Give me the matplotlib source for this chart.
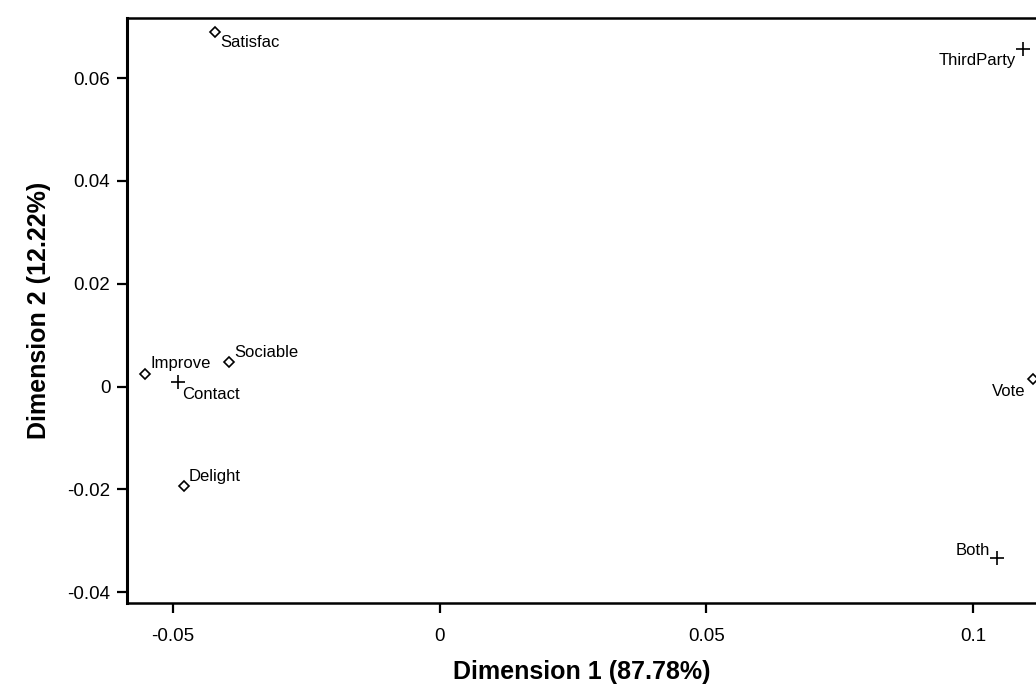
import matplotlib
matplotlib.use('Agg')
from matplotlib import pyplot as plt

plt.rcParams['font.family'] = ['Liberation Sans', 'DejaVu Sans']

# row points (diamonds) and column points (plus)
row_names = ['Satisfac', 'Improve', 'Sociable', 'Delight', 'Vote']
row_x = [-0.0421, -0.0553, -0.0395, -0.0480, 0.1112]
row_y = [0.0690, 0.0025, 0.0047, -0.0194, 0.0014]

col_names = ['ThirdParty', 'Contact', 'Both']
col_x = [0.1094, -0.0490, 0.1045]
col_y = [0.0657, 0.0008, -0.0333]

xticks = [-0.05, 0, 0.05, 0.1]
xtick_labels = ['-0.05', '0', '0.05', '0.1']
yticks = [-0.04, -0.02, 0, 0.02, 0.04, 0.06]
ytick_labels = ['-0.04', '-0.02', '0', '0.02', '0.04', '0.06']

# label offsets in points, with alignment
label_pos = {
    'Satisfac': ((4, -2), 'left', 'top'),
    'Improve': ((4, 2), 'left', 'bottom'),
    'Sociable': ((4, 2), 'left', 'bottom'),
    'Delight': ((4, 2), 'left', 'bottom'),
    'Vote': ((-5, -3), 'right', 'top'),
    'ThirdParty': ((-5, -3), 'right', 'top'),
    'Contact': ((3, -3), 'left', 'top'),
    'Both': ((-5, 0), 'right', 'bottom'),
}

fig = plt.figure(figsize=(10.36, 6.87), dpi=100)
ax = fig.add_axes([127 / 1036, 84 / 687, 1 - 127 / 1036, 585 / 687])

ax.plot(row_x, row_y, linestyle='none', marker='D', markersize=5.5,
        markerfacecolor='none', markeredgecolor='black', markeredgewidth=1.2,
        clip_on=False)
ax.plot(col_x, col_y, linestyle='none', marker='+', markersize=10,
        color='black', markeredgewidth=1.2, clip_on=False)

for names, xs, ys in [(row_names, row_x, row_y), (col_names, col_x, col_y)]:
    for n, x, y in zip(names, xs, ys):
        off, ha, va = label_pos[n]
        ax.annotate(n, (x, y), xytext=off, textcoords='offset points',
                    ha=ha, va=va, fontsize=12)

ax.set_xlim(-0.0586, 0.1118)
ax.set_ylim(-0.0421, 0.0717)
ax.set_xticks(xticks)
ax.set_xticklabels(xtick_labels)
ax.set_yticks(yticks)
ax.set_yticklabels(ytick_labels)

ax.spines['right'].set_visible(False)
ax.spines['left'].set_linewidth(2.2)
ax.spines['bottom'].set_linewidth(1.8)
ax.spines['top'].set_linewidth(1.8)
ax.tick_params(direction='out', length=7, width=1.6, labelsize=13.5)
ax.tick_params(axis='x', pad=11)
ax.tick_params(axis='y', pad=5)

ax.set_xlabel('Dimension 1 (87.78%)', fontsize=18, fontweight='bold', labelpad=11)
ax.set_ylabel('Dimension 2 (12.22%)', fontsize=18, fontweight='bold', labelpad=12)

fig.savefig('out.png', dpi=100)
